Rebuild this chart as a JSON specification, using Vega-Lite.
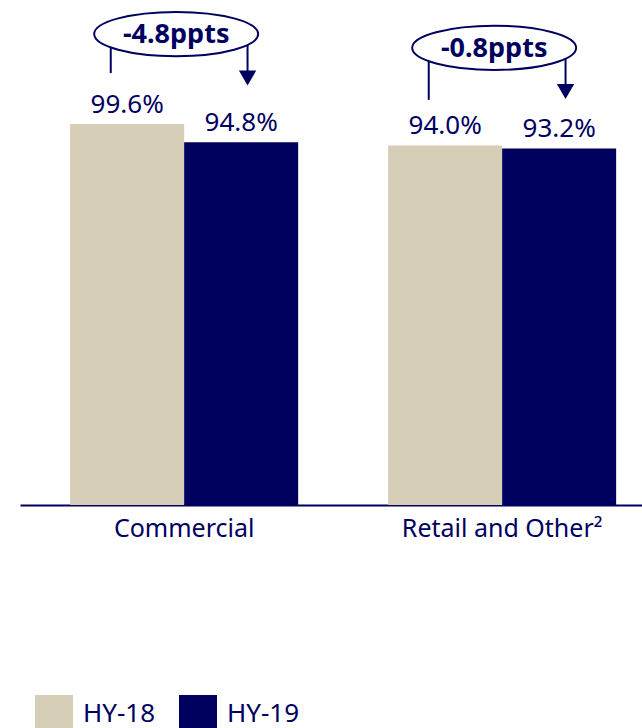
{
  "$schema": "https://vega.github.io/schema/vega-lite/v6.json",
  "description": "Grouped bars HY-18 vs HY-19 with change callouts.",
  "width": 622,
  "height": 505,
  "padding": {"left": 20, "top": 0, "right": 0, "bottom": 0},
  "config": {
    "view": {"stroke": null},
    "font": "Noto Sans",
    "text": {"font": "Noto Sans", "color": "#00005f"}
  },
  "datasets": {
    "bars": [
      {"group": "Commercial", "series": "HY-18", "value": 99.6, "label": "99.6%"},
      {"group": "Commercial", "series": "HY-19", "value": 94.8, "label": "94.8%"},
      {"group": "Retail and Other²", "series": "HY-18", "value": 94.0, "label": "94.0%"},
      {"group": "Retail and Other²", "series": "HY-19", "value": 93.2, "label": "93.2%"}
    ],
    "notes": [
      {"group": "Commercial", "change": "-4.8ppts", "oval": 123.1, "from_end": 112.9, "to_head": 111.6},
      {"group": "Retail and Other²", "change": "-0.8ppts", "oval": 119.5, "from_end": 105.9, "to_head": 108.1}
    ]
  },
  "layer": [
    {
      "data": {"name": "bars"},
      "mark": {"type": "bar"},
      "encoding": {
        "x": {
          "field": "group",
          "type": "nominal",
          "sort": null,
          "title": null,
          "scale": {"paddingInner": 0.283, "paddingOuter": 0.1195, "align": 0.66},
          "axis": {
            "labelAngle": 0,
            "labelFontSize": 25,
            "labelColor": "#00005f",
            "labelFont": "Noto Sans",
            "labelPadding": 11,
            "labelLimit": 400,
            "ticks": false,
            "domainColor": "#00005f",
            "domainWidth": 2
          }
        },
        "xOffset": {
          "field": "series",
          "type": "nominal",
          "scale": {"paddingInner": 0, "paddingOuter": 0}
        },
        "y": {
          "field": "value",
          "type": "quantitative",
          "scale": {"domain": [0, 132], "nice": false},
          "axis": null
        },
        "color": {
          "field": "series",
          "type": "nominal",
          "scale": {"domain": ["HY-18", "HY-19"], "range": ["#d5cdb5", "#00005f"]},
          "legend": {
            "title": null,
            "orient": "none",
            "legendX": 15,
            "legendY": 695,
            "direction": "horizontal",
            "padding": 0,
            "symbolType": "square",
            "symbolSize": 1444,
            "symbolStrokeWidth": 0,
            "symbolOpacity": 1,
            "labelFontSize": 26,
            "labelFont": "Noto Sans",
            "labelColor": "#00005f",
            "labelOffset": 10,
            "columnPadding": 23
          }
        }
      }
    },
    {
      "data": {"name": "bars"},
      "mark": {"type": "text", "baseline": "alphabetic", "dy": -11, "fontSize": 26},
      "encoding": {
        "x": {"field": "group", "type": "nominal", "sort": null},
        "xOffset": {"field": "series", "type": "nominal"},
        "y": {"field": "value", "type": "quantitative"},
        "text": {"field": "label"}
      }
    },
    {
      "data": {"name": "notes"},
      "mark": {"type": "rule", "color": "#00005f", "strokeWidth": 2},
      "encoding": {
        "x": {"field": "group", "type": "nominal", "sort": null, "bandPosition": 0.178},
        "y": {"field": "oval", "type": "quantitative"},
        "y2": {"field": "from_end"}
      }
    },
    {
      "data": {"name": "notes"},
      "mark": {"type": "rule", "color": "#00005f", "strokeWidth": 2},
      "encoding": {
        "x": {"field": "group", "type": "nominal", "sort": null, "bandPosition": 0.778},
        "y": {"field": "oval", "type": "quantitative"},
        "y2": {"field": "to_head"}
      }
    },
    {
      "data": {"name": "notes"},
      "mark": {"type": "point", "shape": "triangle-down", "size": 300, "filled": true, "color": "#00005f", "opacity": 1},
      "encoding": {
        "x": {"field": "group", "type": "nominal", "sort": null, "bandPosition": 0.778},
        "y": {"field": "to_head", "type": "quantitative"}
      }
    },
    {
      "data": {"name": "notes"},
      "mark": {
        "type": "point",
        "shape": "M-1,0A1,0.27,0,1,0,1,0A1,0.27,0,1,0,-1,0Z",
        "size": 26896,
        "fill": "white",
        "fillOpacity": 1,
        "stroke": "#00005f",
        "strokeWidth": 2,
        "opacity": 1
      },
      "encoding": {
        "x": {"field": "group", "type": "nominal", "sort": null, "bandPosition": 0.465},
        "y": {"field": "oval", "type": "quantitative"}
      }
    },
    {
      "data": {"name": "notes"},
      "mark": {"type": "text", "fontSize": 27, "fontWeight": "bold", "baseline": "middle", "dy": 1},
      "encoding": {
        "x": {"field": "group", "type": "nominal", "sort": null, "bandPosition": 0.465},
        "y": {"field": "oval", "type": "quantitative"},
        "text": {"field": "change"}
      }
    }
  ]
}
